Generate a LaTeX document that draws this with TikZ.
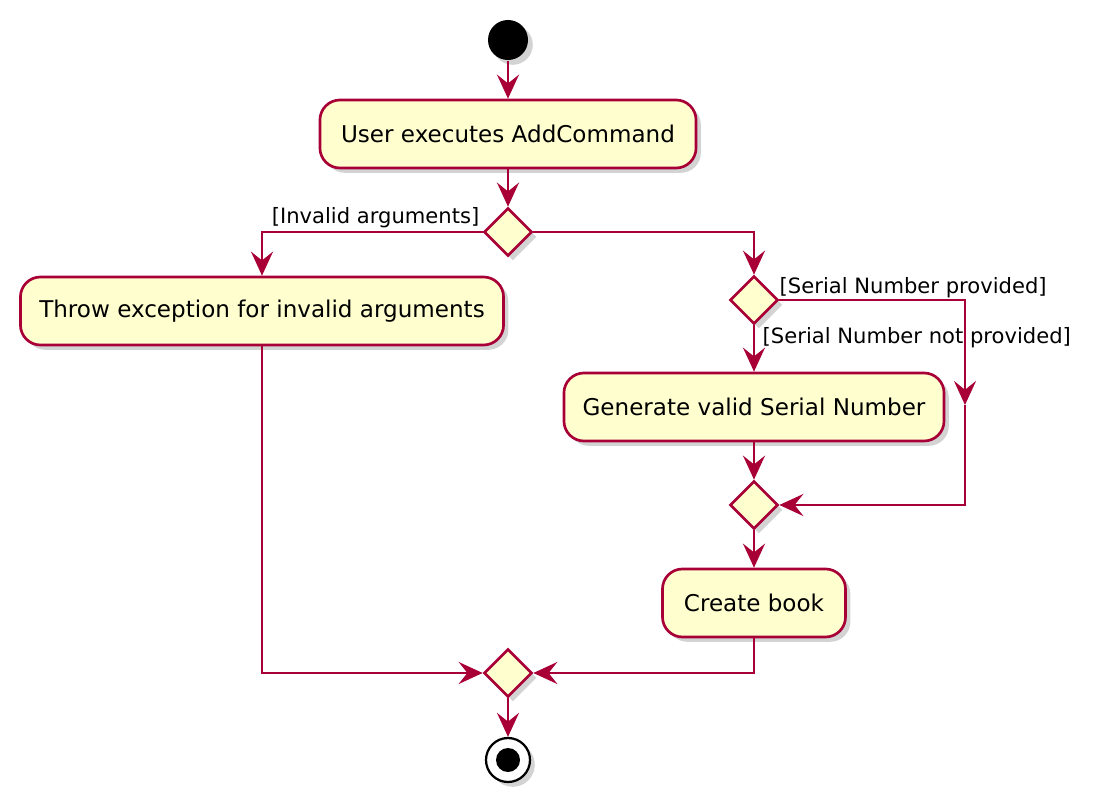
\documentclass[tikz,border=0pt]{standalone}
\usepackage{fontspec}
\setmainfont{DejaVu Sans}
\usetikzlibrary{arrows.meta,shapes.geometric,shadows}
\definecolor{umlred}{HTML}{A80036}
\definecolor{umlfill}{HTML}{FEFECE}
\begin{document}
\begin{tikzpicture}[x=0.025cm, y=-0.025cm, line width=1.9pt, draw=umlred]
                \tikzstyle{act} = [draw=umlred, fill=umlfill, rounded corners=0.5cm, minimum height=1.7cm, font=\fontsize{16.4}{19}\selectfont, drop shadow={shadow xshift=0.12cm, shadow yshift=-0.12cm, opacity=0.35}]
                \tikzstyle{dec} = [draw=umlred, fill=umlfill, diamond, aspect=1, inner sep=0pt, minimum size=1.2cm, drop shadow={shadow xshift=0.12cm, shadow yshift=-0.12cm, opacity=0.35}]
                \tikzstyle{guard} = [font=\fontsize{15}{18}\selectfont, inner sep=1pt]
                \tikzstyle{arr} = [draw=umlred, -{Stealth[length=0.6cm, width=0.55cm, inset=0.22cm]}]
                    \useasboundingbox (0,0) rectangle (1094,801);
                    \node[circle, fill=black, minimum size=1cm, inner sep=0pt, drop shadow={shadow xshift=0.12cm, shadow yshift=-0.12cm, opacity=0.35}] (start) at (508,40) { };
                    \node[act, minimum width=9.4cm] (user) at (508,134) {User executes AddCommand};
                    \node[dec] (args) at (508,232) { };
                    \node[act, minimum width=12.075cm] (throw) at (262,311) {Throw exception for invalid arguments};
                    \node[dec] (serial) at (754,300) { };
                    \node[act, minimum width=9.5cm] (gen) at (754,407) {Generate valid Serial Number};
                    \node[dec] (merge) at (754,505) { };
                    \node[act, minimum width=4.575cm] (book) at (754,603) {Create book};
                    \node[dec] (done) at (508,673) { };
                    \node[circle, draw=black, fill=white, line width=1.6pt, minimum size=1.1cm, inner sep=0pt, drop shadow={shadow xshift=0.12cm, shadow yshift=-0.12cm, opacity=0.35}] (stop) at (508,760) { };
                    \node[circle, fill=black, minimum size=0.6cm, inner sep=0pt] (stopdot) at (stop) { };
                    \coordinate (skip) at (965,405);

                    \node[guard, anchor=east] (inv) at (482,218) {[Invalid arguments]};
                    \node[guard, anchor=west] (prov) at (777,288) {[Serial Number provided]};
                    \node[guard, anchor=west] (notprov) at (760,338) {[Serial Number not provided]};

                    \draw[arr] (start) to (user);
                    \draw[arr] (user) to (args);
                    \draw[arr] (args.west) -| (throw.north);
                    \draw[arr] (args.east) -| (serial.north);
                    \draw[arr] (serial.south) to (gen.north);
                    \draw[arr] (serial.east) -| (skip);
                    \draw[arr] (skip) |- (merge.east);
                    \draw[arr] (gen) to (merge);
                    \draw[arr] (merge) to (book);
                    \draw[arr] (book.south) |- (done.east);
                    \draw[arr] (throw.south) |- (done.west);
                    \draw[arr] (done) to (stop);

                \end{tikzpicture}
\end{document}
